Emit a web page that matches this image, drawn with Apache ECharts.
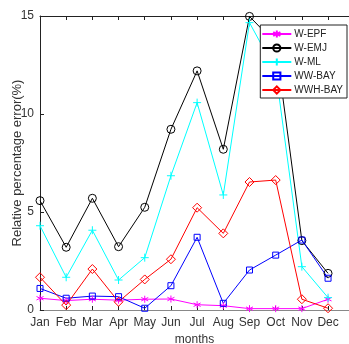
<!DOCTYPE html>
<html>
<head>
<meta charset="utf-8">
<script src="https://cdn.jsdelivr.net/npm/echarts@6/dist/echarts.min.js"></script>
<style>
html, body { margin: 0; padding: 0; background: #fff; }
#main { width: 349px; height: 344px; }
</style>
</head>
<body>
<div id="main"></div>
<script>
var months = ['Jan', 'Feb', 'Mar', 'Apr', 'May', 'Jun', 'Jul', 'Aug', 'Sep', 'Oct', 'Nov', 'Dec'];
var wEpf = [0.6, 0.48, 0.55, 0.5, 0.55, 0.56, 0.27, 0.22, 0.07, 0.07, 0.07, 0.55];
var wEmj = [5.58, 3.2, 5.7, 3.23, 5.24, 9.22, 12.2, 8.2, 14.98, 13.6, 3.54, 1.87];
var wMl = [4.3, 1.67, 4.07, 1.53, 2.67, 6.85, 10.58, 5.87, 14.66, 12.2, 2.21, 0.63];
var wwBay = [1.1, 0.6, 0.71, 0.68, 0.09, 1.24, 3.71, 0.34, 2.04, 2.8, 3.57, 1.62];
var wwhBay = [1.67, 0.25, 2.09, 0.42, 1.56, 2.59, 5.22, 3.91, 6.53, 6.63, 0.55, 0.09];
var yTicks = [0, 5, 10, 15];

var plusPath = 'path://M0,-1L0,1M-1,0L1,0';
var starPath = 'path://M0,-1L0,1M-0.87,-0.5L0.87,0.5M-0.87,0.5L0.87,-0.5';
var narrow = '"Liberation Sans Narrow", "Arial Narrow", "Liberation Sans", sans-serif';

function pts(arr) {
    return arr.map(function (v, i) { return [i + 1, v]; });
}

function mk(name, data, color, symbol, size) {
    return {
        name: name,
        type: 'line',
        data: pts(data),
        symbol: symbol,
        symbolSize: size,
        showAllSymbol: true,
        lineStyle: { color: color, width: 1 },
        itemStyle: { color: 'rgba(0,0,0,0)', borderColor: color, borderWidth: 1 },
        emphasis: { disabled: true },
        animation: false
    };
}

var myChart = echarts.init(document.getElementById('main'));
var option = {
    backgroundColor: '#fff',
    textStyle: { fontFamily: narrow },
    grid: { left: 40, top: 16, right: 0, bottom: 34, outerBoundsMode: 'none', containLabel: false },
    legend: {
        right: 2, top: 25,
        orient: 'vertical',
        backgroundColor: '#fff',
        borderColor: '#222', borderWidth: 1,
        padding: [4, 4, 3, 1],
        itemGap: 4,
        itemWidth: 29, itemHeight: 9,
        textStyle: { fontSize: 10, color: '#222', fontFamily: narrow, padding: [0, 0, 0, -2] },
        data: ['W-EPF', 'W-EMJ', 'W-ML', 'WW-BAY', 'WWH-BAY']
    },
    xAxis: [{
        type: 'value', min: 1, max: 12.8, interval: 1,
        name: 'months', nameLocation: 'middle', nameGap: 20,
        nameTextStyle: { fontSize: 12, color: '#333', fontFamily: narrow },
        axisLine: { lineStyle: { color: '#888' } },
        axisTick: { inside: true, length: 4, lineStyle: { color: '#222' } },
        axisLabel: {
            fontSize: 12, color: '#333', margin: 7, showMaxLabel: false, fontFamily: narrow,
            formatter: function (v) { return months[v - 1] || ''; }
        },
        splitLine: { show: false }
    }, {
        type: 'value', min: 1, max: 12.8, interval: 1, position: 'top',
        axisLine: { lineStyle: { color: '#222' } },
        axisTick: { inside: true, length: 4, lineStyle: { color: '#222' } },
        axisLabel: { show: false },
        splitLine: { show: false }
    }],
    yAxis: {
        type: 'value', min: yTicks[0], max: yTicks[yTicks.length - 1], interval: 5,
        name: 'Relative percentage error(%)', nameLocation: 'middle', nameGap: 16,
        nameMoveOverlap: false,
        nameTextStyle: { fontSize: 13, color: '#333', fontFamily: 'Liberation Sans, Arial, sans-serif' },
        axisLine: { show: true, lineStyle: { color: '#222' } },
        axisTick: { show: true, inside: true, length: 4, lineStyle: { color: '#222' } },
        axisLabel: { fontSize: 12, color: '#333', margin: 6, fontFamily: narrow },
        splitLine: { show: false }
    },
    series: [
        mk('W-EPF', wEpf, '#ff00ff', starPath, 7),
        mk('W-EMJ', wEmj, '#000000', 'circle', 8),
        mk('W-ML', wMl, '#00ffff', plusPath, 8),
        mk('WW-BAY', wwBay, '#0000ff', 'rect', 6),
        mk('WWH-BAY', wwhBay, '#ff0000', 'diamond', 9)
    ]
};
myChart.setOption(option);
window.onresize = myChart.resize;
</script>
</body>
</html>
